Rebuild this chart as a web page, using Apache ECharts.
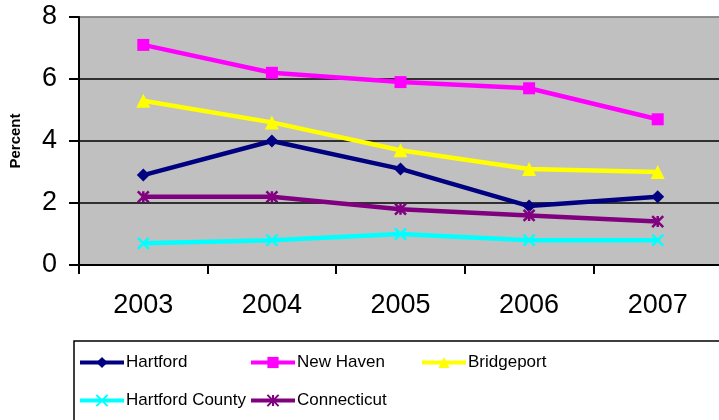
<!DOCTYPE html>
<html>
<head>
<meta charset="utf-8">
<script src="https://cdn.jsdelivr.net/npm/echarts@6/dist/echarts.min.js"></script>
<style>
  html, body { margin: 0; padding: 0; background: #fff; }
  #chart { width: 719px; height: 420px; }
</style>
</head>
<body>
<div id="chart"></div>
<script>
const years = ['2003', '2004', '2005', '2006', '2007']
const hartford = [2.9, 4.0, 3.1, 1.9, 2.2]
const newHaven = [7.1, 6.2, 5.9, 5.7, 4.7]
const bridgeport = [5.3, 4.6, 3.7, 3.1, 3.0]
const hartfordCounty = [0.7, 0.8, 1.0, 0.8, 0.8]
const connecticut = [2.2, 2.2, 1.8, 1.6, 1.4]

const font = 'Liberation Sans, Arial, sans-serif'
const xPath = 'path://M0,0L10,10M10,0L0,10'
const starPath = 'path://M0,0L10,10M10,0L0,10M5,0L5,10'

function makeLine(name, data, color, symbol, size, stroke) {
  return {
    name: name,
    type: 'line',
    data: data,
    symbol: symbol,
    symbolSize: size,
    lineStyle: { color: color, width: 4.5 },
    itemStyle: stroke
      ? { color: color, borderColor: color, borderWidth: 2.5 }
      : { color: color, borderWidth: 0 },
    animation: false,
  }
}

// one legend per entry so the columns line up like the original
function makeLegend(name, left, top) {
  return {
    data: [name],
    left: left,
    top: top,
    padding: 0,
    itemGap: 0,
    itemWidth: 44,
    itemHeight: 14,
    lineStyle: { width: 4 },
    textStyle: { fontFamily: font, fontSize: 17, color: '#000', padding: [0, 0, 0, -3] },
    z: 5,
  }
}

const myChart = echarts.init(document.getElementById('chart'))
myChart.setOption({
  animation: false,
  grid: {
    left: 79,
    top: 17,
    width: 643,
    height: 248,
    show: true,
    backgroundColor: '#C0C0C0',
    borderColor: '#808080',
    borderWidth: 1,
    outerBoundsMode: 'none',
  },
  graphic: [
    {
      type: 'rect',
      shape: { x: 74, y: 341, width: 660, height: 100 },
      style: { fill: '#fff', stroke: '#000', lineWidth: 1.5 },
      z: 0,
    },
  ],
  legend: [
    makeLegend('Hartford', 78, 354),
    makeLegend('New Haven', 249, 354),
    makeLegend('Bridgeport', 420, 354),
    makeLegend('Hartford County', 78, 392),
    makeLegend('Connecticut', 249, 392),
  ],
  xAxis: {
    type: 'category',
    data: years,
    boundaryGap: true,
    axisLine: { lineStyle: { color: '#000', width: 2 } },
    axisTick: { show: true, length: 9, lineStyle: { color: '#000', width: 2 } },
    axisLabel: { fontFamily: font, fontSize: 27, color: '#000', margin: 27 },
    splitLine: { show: false },
  },
  yAxis: {
    type: 'value',
    min: 0,
    max: 8,
    interval: 2,
    name: 'Percent',
    nameLocation: 'middle',
    nameGap: 56,
    nameTextStyle: { fontFamily: font, fontSize: 15, fontWeight: 'bold', color: '#000' },
    axisLine: { show: true, lineStyle: { color: '#000', width: 2 } },
    axisTick: { show: true, length: 10, lineStyle: { color: '#000', width: 2 } },
    axisLabel: { fontFamily: font, fontSize: 27, color: '#000', margin: 22 },
    splitLine: {
      show: true,
      lineStyle: { color: ['#000', '#000', '#000', '#000', '#808080'], width: 1.5 },
    },
  },
  series: [
    makeLine('Hartford', hartford, '#000080', 'diamond', 13, false),
    makeLine('New Haven', newHaven, '#FF00FF', 'rect', 12, false),
    makeLine('Bridgeport', bridgeport, '#FFFF00', 'triangle', 14, false),
    makeLine('Hartford County', hartfordCounty, '#00FFFF', xPath, 11, true),
    makeLine('Connecticut', connecticut, '#800080', starPath, 11, true),
  ],
})
</script>
</body>
</html>
